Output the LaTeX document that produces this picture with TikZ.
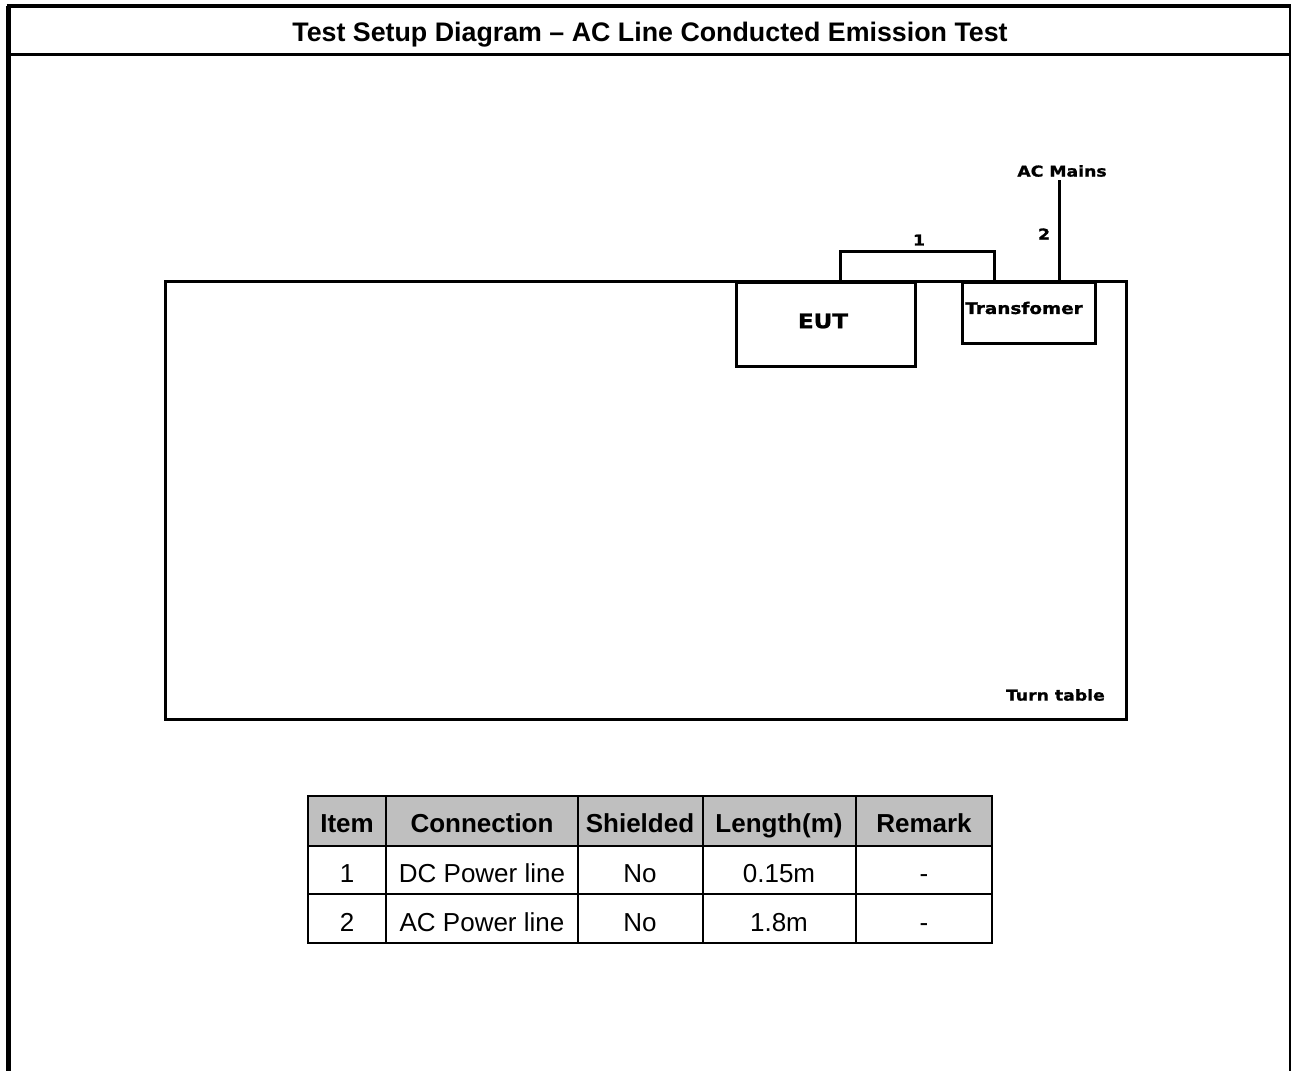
\documentclass[tikz,border=0pt]{standalone}
\usepackage{fontspec}
\setmainfont{Liberation Sans}
\newfontfamily\widefont[FakeStretch=1.15,FakeBold=1.2]{DejaVu Sans}
\begin{document}
\begin{tikzpicture}[x=1pt,y=-1pt,
  thickline/.style={line width=3pt},
  tablefill/.style={fill=black!25},
  tableline/.style={line width=2pt},
  hdr/.style={font=\fontsize{26}{30}\selectfont\bfseries, inner sep=0pt, anchor=base},
  cell/.style={font=\fontsize{26}{30}\selectfont, inner sep=0pt, anchor=base},
  lbl/.style={font=\widefont\bfseries\fontsize{15}{18}\selectfont, inner sep=0pt},
  box/.style={draw, line width=3pt, inner sep=0pt}]
\useasboundingbox (0,0) rectangle (1291,1071);
% outer frame
\draw[line width=5pt] (8.5,1071) -- (8.5,6);
\draw[line width=4pt] (6.5,6) -- (1291,6);
\draw[line width=2pt] (1290,6) -- (1290,1071);
\draw[line width=3pt] (8.5,54) -- (1290,54);
\node[font=\fontsize{26.8}{30}\selectfont\bfseries, inner sep=0pt, anchor=base] (title) at (650,41) {Test Setup Diagram – AC Line Conducted Emission Test};
% turn table
\node[box, minimum width=961pt, minimum height=438pt, anchor=north west] (table) at (164,280) {};
\node[lbl, anchor=east] (tt) at (1105,695) {Turn table};
% EUT
\node[box, fill=white, minimum width=179pt, minimum height=84pt, anchor=north west] (eut) at (735,281) {};
\node[lbl, font=\widefont\bfseries\fontsize{20}{22}\selectfont] (eutl) at (823,321) {EUT};
% Transformer
\node[box, fill=white, minimum width=133pt, minimum height=61pt, anchor=north west] (tr) at (961,281) {};
\node[lbl, font=\widefont\bfseries\fontsize{16}{19}\selectfont] (trl) at (1024,308) {Transfomer};
% connector 1
\coordinate (c1a) at (840,281);
\coordinate (c1b) at (994,281);
\draw[thickline] (c1a) -- ++(0,-30) -| (c1b);
\node[lbl] (n1) at (919,240) {1};
% connector 2
\coordinate (c2a) at (1059,281);
\node[lbl, anchor=south] (acm) at (1062,177) {AC Mains};
\draw[thickline] (c2a) -- (1059,180);
\node[lbl] (n2) at (1044,234) {2};
% table
\fill[tablefill] (308,796) rectangle (992,846);
\draw[tableline] (308,796) rectangle (992,943);
\foreach \y in {846,894} \draw[tableline] (308,\y) -- (992,\y);
\foreach \x in {386,578,703,856} \draw[tableline] (\x,796) -- (\x,943);
\node[hdr] (h1) at (347,832) {Item};
\node[hdr] (h2) at (482,832) {Connection};
\node[hdr] (h3) at (640,832) {Shielded};
\node[hdr] (h4) at (779,832) {Length(m)};
\node[hdr] (h5) at (924,832) {Remark};
\node[cell] (a1) at (347,882) {1};
\node[cell] (a2) at (482,882) {DC Power line};
\node[cell] (a3) at (640,882) {No};
\node[cell] (a4) at (779,882) {0.15m};
\node[cell] (a5) at (924,882) {-};
\node[cell] (b1) at (347,931) {2};
\node[cell] (b2) at (482,931) {AC Power line};
\node[cell] (b3) at (640,931) {No};
\node[cell] (b4) at (779,931) {1.8m};
\node[cell] (b5) at (924,931) {-};
\end{tikzpicture}
\end{document}
